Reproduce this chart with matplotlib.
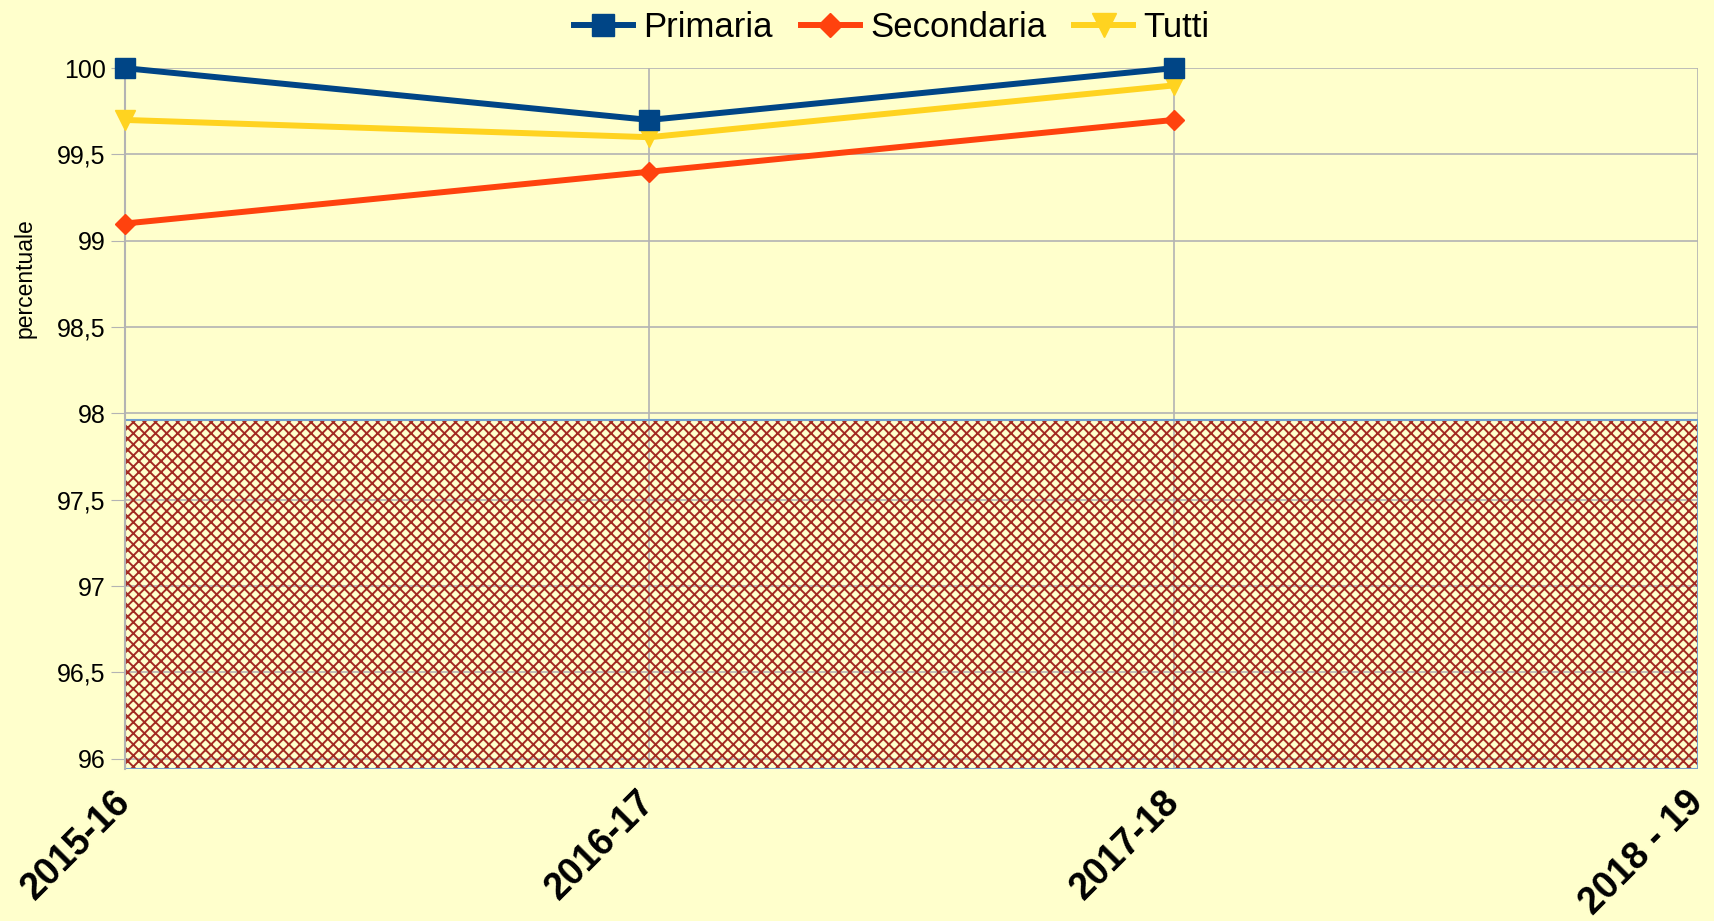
import numpy as np
import matplotlib.pyplot as plt
from matplotlib.patches import Rectangle

plt.rcParams['font.family'] = ['Liberation Sans', 'DejaVu Sans']
plt.rcParams['hatch.linewidth'] = 1.4

anni = ["2015-16", "2016-17", "2017-18", "2018 - 19"]
primaria = [100, 99.7, 100, np.nan]
secondaria = [99.1, 99.4, 99.7, np.nan]
tutti = [99.7, 99.6, 99.9, np.nan]

# banda tratteggiata sotto il 98
banda = (95.94, 97.96)

bg = "#ffffcc"
grid_col = "#b3b3b3"

fig = plt.figure(figsize=(17.15, 9.21), dpi=100, facecolor=bg)
ax = fig.add_axes([0.0729, 0.165, 0.9172, 0.761])
ax.set_facecolor(bg)

x = np.arange(len(anni))

ax.add_patch(Rectangle((0, banda[0]), len(anni) - 1, banda[1] - banda[0],
                       facecolor="none", edgecolor="#a32a22", hatch="xxx",
                       linewidth=0, zorder=1))
ax.add_patch(Rectangle((0, banda[0]), len(anni) - 1, banda[1] - banda[0],
                       facecolor="none", edgecolor="#729fcf", linewidth=1.5,
                       zorder=1.5))

ax.plot(x, primaria, color="#004586", lw=4.3, marker="s", ms=14,
        label="Primaria", zorder=4, clip_on=False)
ax.plot(x, secondaria, color="#ff420e", lw=4.3, marker="D", ms=10.5,
        label="Secondaria", zorder=3, clip_on=False)
ax.plot(x, tutti, color="#ffd320", lw=4.3, marker="v", ms=15,
        label="Tutti", zorder=3.5, clip_on=False)

ax.set_xlim(0, len(anni) - 1)
ax.set_ylim(95.94, 100)
ax.set_yticks(np.arange(96, 100.01, 0.5))
ax.set_yticklabels([f"{v:g}".replace(".", ",") for v in np.arange(96, 100.01, 0.5)],
                   fontsize=18)
ax.set_xticks(x)
ax.set_xticklabels(anni, rotation=45, ha="right", va="center",
                   rotation_mode="anchor", fontsize=27, fontweight="bold")
ax.tick_params(axis="y", length=10, color=grid_col, pad=4)
ax.tick_params(axis="x", length=0, pad=20)

ax.grid(True, color=grid_col, lw=1.2, zorder=0)
ax.set_axisbelow(True)
for s in ["top", "right", "bottom"]:
    ax.spines[s].set_visible(False)
ax.spines["left"].set_color(grid_col)
ax.spines["left"].set_linewidth(1.5)

ax.set_ylabel("percentuale", fontsize=16.5)
ax.yaxis.set_label_coords(-0.056, 0.7)

fig.legend(loc="upper center", bbox_to_anchor=(0.52, 1.022), ncol=3,
           frameon=False, fontsize=25, handlelength=1.7, handletextpad=0.3,
           columnspacing=0.8, markerscale=1.15)

fig.savefig("out.png", dpi=100, facecolor=bg)
